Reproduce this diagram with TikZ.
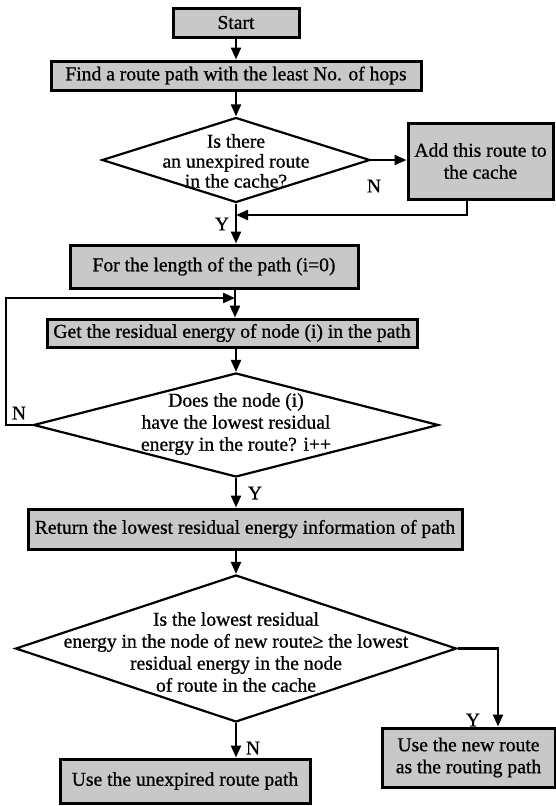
\documentclass[tikz,border=0pt]{standalone}
\usepackage{fontspec}
\setmainfont{Liberation Serif}[FakeBold=0.8]
\usetikzlibrary{arrows.meta,shapes.geometric,calc}
\definecolor{boxgray}{RGB}{200,200,200}
\tikzset{
  txt/.style={font=\fontsize{19.6}{22}\selectfont},
  box/.style={txt, draw=black, fill=boxgray, line width=3pt, inner sep=0pt, align=center},
  decision/.style={diamond, draw=black, fill=white, line width=2.2pt, inner sep=0pt},
  dtext/.style={txt, align=center, inner sep=0pt},
  flow/.style={line width=2.2pt, -{Triangle[length=12pt,width=10pt]}},
  yn/.style={txt, inner sep=0pt},
}
\begin{document}
\begin{tikzpicture}[x=1pt,y=-1pt]
\useasboundingbox (0,0) rectangle (556,806);

% process boxes
\node[box, minimum width=126pt, minimum height=29pt] (start) at (236,22.5) {Start};
\node[box, minimum width=370pt, minimum height=29pt] (find) at (236,75.5) {Find a route path with the least No. of hops};
\node[box, minimum width=145pt, minimum height=76pt] (add) at (480.5,161) {Add this route to\\the cache};
\node[box, minimum width=288pt, minimum height=43pt] (forlen) at (214,266.5) {For the length of the path (i=0)};
\node[box, minimum width=370pt, minimum height=28pt] (getres) at (232,333) {Get the residual energy of node (i) in the path};
\node[box, minimum width=434pt, minimum height=40pt] (ret) at (245,529) {Return the lowest residual energy information of path};
\node[box, minimum width=250pt, minimum height=44pt] (unexp) at (185,781) {Use the unexpired route path};
\node[box, minimum width=173pt, minimum height=59pt] (newroute) at (468.5,757.5) {Use the new route\\as the routing path};

% decisions
\node[decision, minimum width=268pt, minimum height=85pt] (dec1) at (236,160) {};
\node[dtext, font=\fontsize{19.6}{20}\selectfont] (dec1t) at (236,161) {Is there\\an unexpired route\\in the cache?};
\node[decision, minimum width=405pt, minimum height=104pt] (dec2) at (236,425) {};
\node[dtext] (dec2t) at (236,424) {Does the node (i)\\have the lowest residual\\energy in the route? i++};
\node[decision, minimum width=441pt, minimum height=147pt] (dec3) at (236,648.5) {};
\node[dtext] (dec3t) at (236,652) {Is the lowest residual\\energy in the node of new route\hspace{0pt}≥ the lowest\\residual energy in the node\\of route in the cache};

% helper points for the bends
\coordinate (m1) at (236,215);
\coordinate (ax) at (235,0);
\coordinate (lx) at (6,0);
\coordinate (m2) at (235,298);
\coordinate (rx) at (498,0);

% connectors
\draw[flow] (start) -- (find);
\draw[flow] (find) -- (dec1);
\draw[flow] (dec1.east) -- (dec1.east -| add.west);
\draw[flow] ([xshift=-13.5pt]add.south) |- (m1);
\draw[flow] (dec1.south) -- (dec1.south |- forlen.north);
\draw[flow] (forlen.south -| ax) -- (getres.north -| ax);
\draw[flow] (getres.south -| dec2.north) -- (dec2.north);
\draw[flow] (dec2.west) -- (dec2.west -| lx) |- (m2);
\draw[flow] (dec2.south) -- (dec2.south |- ret.north);
\draw[flow] (ret.south -| dec3.north) -- (dec3.north);
\draw[flow] (dec3.east) -| (newroute.north -| rx);
\draw[flow] (dec3.south) -- (dec3.south |- unexp.north);

% branch labels
\node[yn] (n1) at (374,186) {N};
\node[yn] (y1) at (222,224) {Y};
\node[yn] (n2) at (19,413) {N};
\node[yn] (y2) at (255,493) {Y};
\node[yn] (y3) at (473,720) {Y};
\node[yn] (n3) at (253,748) {N};
\end{tikzpicture}
\end{document}
